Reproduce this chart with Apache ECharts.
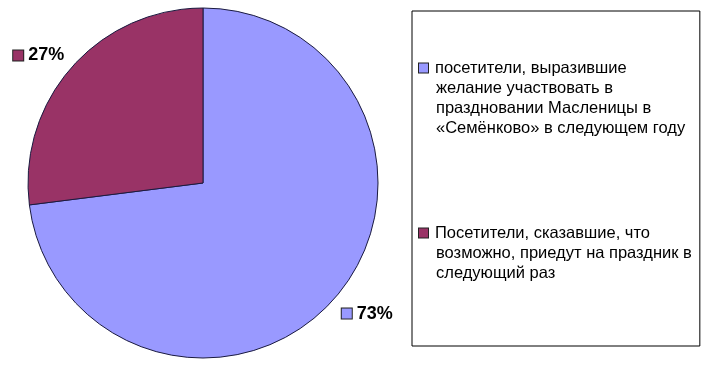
<!DOCTYPE html>
<html>
<head>
<meta charset="utf-8">
<script src="https://cdn.jsdelivr.net/npm/echarts@6/dist/echarts.min.js"></script>
<style>html,body{margin:0;padding:0;background:#fff}#c{width:714px;height:366px}</style>
</head>
<body>
<div id="c"></div>
<script>
const categories = [
  'посетители, выразившие желание участвовать в праздновании Масленицы в «Семёнково» в следующем году',
  'Посетители, сказавшие, что возможно, приедут на праздник в следующий раз'
];
const legendLines = [
  ['посетители, выразившие', 'желание участвовать в', 'праздновании Масленицы в', '«Семёнково» в следующем году'],
  ['Посетители, сказавшие, что', 'возможно, приедут на праздник в', 'следующий раз']
];
const values = [73, 27];
const colors = ['#9999FF', '#993366'];

const rich = { g: { width: 5 },
  t: { fontFamily: 'Liberation Sans, Arial', fontSize: 18, fontWeight: 'bold', color: '#000' } };
colors.forEach((c, k) => {
  rich['m' + k] = { width: 10, height: 10, backgroundColor: c, borderColor: '#222', borderWidth: 1 };
});

const chart = echarts.init(document.getElementById('c'), null, { renderer: 'canvas' });
chart.setOption({
  animation: false,
  backgroundColor: '#fff',
  color: colors,
  legend: {
    orient: 'vertical',
    left: 412, top: 11,
    padding: [47, 8, 63, 1],
    itemGap: 85,
    itemWidth: 0, itemHeight: 0,
    borderColor: '#000', borderWidth: 1,
    selectedMode: false,
    data: categories,
    formatter: function (name) {
      const k = categories.indexOf(name);
      return legendLines[k].map((l, j) => (j === 0 ? '{m' + k + '|}{g|}' : '{i|}') + l).join('\n');
    },
    textStyle: {
      fontFamily: 'Liberation Sans, Arial', fontSize: 16.5, color: '#000', lineHeight: 20,
      rich: {
        g: { width: 7 }, i: { width: 17 },
        m0: { width: 9, height: 9, backgroundColor: colors[0], borderColor: '#222', borderWidth: 1 },
        m1: { width: 9, height: 9, backgroundColor: colors[1], borderColor: '#222', borderWidth: 1 }
      }
    }
  },
  series: [{
    type: 'pie',
    center: [203, 183],
    radius: 175,
    startAngle: 90,
    clockwise: true,
    avoidLabelOverlap: false,
    itemStyle: { borderColor: '#1a1a40', borderWidth: 1 },
    label: {
      show: true,
      position: 'outside',
      distanceToLabelLine: 0,
      formatter: p => '{m' + p.dataIndex + '|}{g|}{t|' + p.value + '%}',
      rich: rich
    },
    labelLine: { show: false, length: 36, length2: 0 },
    labelLayout: function (p) {
      return p.dataIndex === 0
        ? { align: 'center', verticalAlign: 'middle', dx: 6, dy: -9 }
        : { align: 'center', verticalAlign: 'middle', dx: -6, dy: 12 };
    },
    emphasis: { disabled: true },
    data: categories.map((n, k) => ({ name: n, value: values[k] }))
  }]
});
</script>
</body>
</html>
